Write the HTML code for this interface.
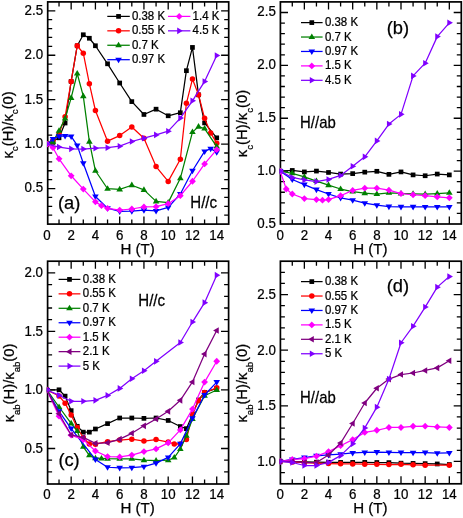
<!DOCTYPE html>
<html lang="en">
<head>
<meta charset="utf-8">
<title>Field dependence of thermal conductivity</title>
<style>
html,body{margin:0;padding:0;background:#fff;}
body{width:463px;height:518px;overflow:hidden;font-family:"Liberation Sans", sans-serif;}
svg{display:block;will-change:transform;font-family:"Liberation Sans", sans-serif;fill:#000;}
svg text{stroke:#000;stroke-width:0.25px;}
</style>
</head>
<body>
<svg width="463" height="518" viewBox="0 0 463 518">
<rect width="463" height="518" fill="#fff"/>
<path d="M59.03 224.1v-4.5M59.03 1.9v4.5M71.16 224.1v-7.6M71.16 1.9v7.6M83.29 224.1v-4.5M83.29 1.9v4.5M95.42 224.1v-7.6M95.42 1.9v7.6M107.55 224.1v-4.5M107.55 1.9v4.5M119.68 224.1v-7.6M119.68 1.9v7.6M131.81 224.1v-4.5M131.81 1.9v4.5M143.94 224.1v-7.6M143.94 1.9v7.6M156.07 224.1v-4.5M156.07 1.9v4.5M168.2 224.1v-7.6M168.2 1.9v7.6M180.33 224.1v-4.5M180.33 1.9v4.5M192.46 224.1v-7.6M192.46 1.9v7.6M204.59 224.1v-4.5M204.59 1.9v4.5M216.72 224.1v-7.6M216.72 1.9v7.6M47.7 215.21h4.5M228.7 215.21h-4.5M47.7 206.32h4.5M228.7 206.32h-4.5M47.7 197.44h4.5M228.7 197.44h-4.5M47.7 188.55h7.6M228.7 188.55h-7.6M47.7 179.66h4.5M228.7 179.66h-4.5M47.7 170.77h4.5M228.7 170.77h-4.5M47.7 161.88h4.5M228.7 161.88h-4.5M47.7 153h4.5M228.7 153h-4.5M47.7 144.11h7.6M228.7 144.11h-7.6M47.7 135.22h4.5M228.7 135.22h-4.5M47.7 126.33h4.5M228.7 126.33h-4.5M47.7 117.44h4.5M228.7 117.44h-4.5M47.7 108.56h4.5M228.7 108.56h-4.5M47.7 99.67h7.6M228.7 99.67h-7.6M47.7 90.78h4.5M228.7 90.78h-4.5M47.7 81.89h4.5M228.7 81.89h-4.5M47.7 73h4.5M228.7 73h-4.5M47.7 64.12h4.5M228.7 64.12h-4.5M47.7 55.23h7.6M228.7 55.23h-7.6M47.7 46.34h4.5M228.7 46.34h-4.5M47.7 37.45h4.5M228.7 37.45h-4.5M47.7 28.56h4.5M228.7 28.56h-4.5M47.7 19.68h4.5M228.7 19.68h-4.5M47.7 10.79h7.6M228.7 10.79h-7.6" stroke="#000" stroke-width="1.3" fill="none"/>
<rect x="47.7" y="1.9" width="181" height="222.2" fill="none" stroke="#000" stroke-width="1.7"/>
<clipPath id="clipa"><rect x="47" y="1.2" width="182.4" height="223.6"/></clipPath>
<g clip-path="url(#clipa)">
<polyline points="46.9,144.11 52.96,141.33 59.03,137.82 65.09,123.02 71.16,81.43 77.22,45.75 83.29,34.74 89.36,38.26 95.42,45.75 107.55,63.81 119.68,83.01 131.81,101.61 143.94,114.47 156.07,109.18 168.2,115.79 180.33,112.71 186.4,70.68 192.46,47.42 198.53,94.82 204.59,122.93 216.72,137.82" fill="none" stroke="#000000" stroke-width="1.25" stroke-linejoin="round"/>
<rect x="44.55" y="141.76" width="4.7" height="4.7" fill="#000000"/>
<rect x="50.61" y="138.98" width="4.7" height="4.7" fill="#000000"/>
<rect x="56.68" y="135.47" width="4.7" height="4.7" fill="#000000"/>
<rect x="62.74" y="120.67" width="4.7" height="4.7" fill="#000000"/>
<rect x="68.81" y="79.08" width="4.7" height="4.7" fill="#000000"/>
<rect x="74.88" y="43.4" width="4.7" height="4.7" fill="#000000"/>
<rect x="80.94" y="32.39" width="4.7" height="4.7" fill="#000000"/>
<rect x="87.01" y="35.91" width="4.7" height="4.7" fill="#000000"/>
<rect x="93.07" y="43.4" width="4.7" height="4.7" fill="#000000"/>
<rect x="105.2" y="61.46" width="4.7" height="4.7" fill="#000000"/>
<rect x="117.33" y="80.66" width="4.7" height="4.7" fill="#000000"/>
<rect x="129.46" y="99.26" width="4.7" height="4.7" fill="#000000"/>
<rect x="141.59" y="112.12" width="4.7" height="4.7" fill="#000000"/>
<rect x="153.72" y="106.83" width="4.7" height="4.7" fill="#000000"/>
<rect x="165.85" y="113.44" width="4.7" height="4.7" fill="#000000"/>
<rect x="177.98" y="110.36" width="4.7" height="4.7" fill="#000000"/>
<rect x="184.05" y="68.33" width="4.7" height="4.7" fill="#000000"/>
<rect x="190.11" y="45.07" width="4.7" height="4.7" fill="#000000"/>
<rect x="196.18" y="92.47" width="4.7" height="4.7" fill="#000000"/>
<rect x="202.24" y="120.58" width="4.7" height="4.7" fill="#000000"/>
<rect x="214.37" y="135.47" width="4.7" height="4.7" fill="#000000"/>
<polyline points="46.9,144.11 52.96,140.46 59.03,133.85 65.09,116.85 71.16,81.43 77.22,45.75 83.29,53.24 89.36,83.63 95.42,110.5 107.55,141.17 119.68,135.61 131.81,126.98 143.94,138.17 156.07,166.62 168.2,181.42 180.33,159.31 186.4,103.28 192.46,79.05 198.53,94.65 204.59,118.34 210.66,132.88 216.72,143.19" fill="none" stroke="#ff0000" stroke-width="1.25" stroke-linejoin="round"/>
<circle cx="46.9" cy="144.11" r="2.75" fill="#ff0000"/>
<circle cx="52.96" cy="140.46" r="2.75" fill="#ff0000"/>
<circle cx="59.03" cy="133.85" r="2.75" fill="#ff0000"/>
<circle cx="65.09" cy="116.85" r="2.75" fill="#ff0000"/>
<circle cx="71.16" cy="81.43" r="2.75" fill="#ff0000"/>
<circle cx="77.22" cy="45.75" r="2.75" fill="#ff0000"/>
<circle cx="83.29" cy="53.24" r="2.75" fill="#ff0000"/>
<circle cx="89.36" cy="83.63" r="2.75" fill="#ff0000"/>
<circle cx="95.42" cy="110.5" r="2.75" fill="#ff0000"/>
<circle cx="107.55" cy="141.17" r="2.75" fill="#ff0000"/>
<circle cx="119.68" cy="135.61" r="2.75" fill="#ff0000"/>
<circle cx="131.81" cy="126.98" r="2.75" fill="#ff0000"/>
<circle cx="143.94" cy="138.17" r="2.75" fill="#ff0000"/>
<circle cx="156.07" cy="166.62" r="2.75" fill="#ff0000"/>
<circle cx="168.2" cy="181.42" r="2.75" fill="#ff0000"/>
<circle cx="180.33" cy="159.31" r="2.75" fill="#ff0000"/>
<circle cx="186.4" cy="103.28" r="2.75" fill="#ff0000"/>
<circle cx="192.46" cy="79.05" r="2.75" fill="#ff0000"/>
<circle cx="198.53" cy="94.65" r="2.75" fill="#ff0000"/>
<circle cx="204.59" cy="118.34" r="2.75" fill="#ff0000"/>
<circle cx="210.66" cy="132.88" r="2.75" fill="#ff0000"/>
<circle cx="216.72" cy="143.19" r="2.75" fill="#ff0000"/>
<polyline points="46.9,144.11 52.96,141.78 59.03,130.77 65.09,118.61 71.16,97.91 77.22,73.5 83.29,96.14 89.36,141.69 95.42,170.76 107.55,188.73 119.68,189.44 131.81,185.22 143.94,189.88 156.07,201.42 168.2,202.65 180.33,178.34 192.46,132.09 198.53,126.63 204.59,128.56 216.72,146.53" fill="none" stroke="#008000" stroke-width="1.25" stroke-linejoin="round"/>
<polygon points="46.9,140.51 43.6,146.11 50.2,146.11" fill="#008000"/>
<polygon points="52.96,138.18 49.66,143.78 56.26,143.78" fill="#008000"/>
<polygon points="59.03,127.17 55.73,132.77 62.33,132.77" fill="#008000"/>
<polygon points="65.09,115.01 61.8,120.61 68.39,120.61" fill="#008000"/>
<polygon points="71.16,94.31 67.86,99.91 74.46,99.91" fill="#008000"/>
<polygon points="77.22,69.9 73.92,75.5 80.52,75.5" fill="#008000"/>
<polygon points="83.29,92.54 79.99,98.14 86.59,98.14" fill="#008000"/>
<polygon points="89.36,138.09 86.06,143.69 92.66,143.69" fill="#008000"/>
<polygon points="95.42,167.16 92.12,172.76 98.72,172.76" fill="#008000"/>
<polygon points="107.55,185.13 104.25,190.73 110.85,190.73" fill="#008000"/>
<polygon points="119.68,185.84 116.38,191.44 122.98,191.44" fill="#008000"/>
<polygon points="131.81,181.62 128.51,187.22 135.11,187.22" fill="#008000"/>
<polygon points="143.94,186.28 140.64,191.88 147.24,191.88" fill="#008000"/>
<polygon points="156.07,197.82 152.77,203.42 159.37,203.42" fill="#008000"/>
<polygon points="168.2,199.05 164.9,204.65 171.5,204.65" fill="#008000"/>
<polygon points="180.33,174.74 177.03,180.34 183.63,180.34" fill="#008000"/>
<polygon points="192.46,128.49 189.16,134.09 195.76,134.09" fill="#008000"/>
<polygon points="198.53,123.03 195.22,128.63 201.83,128.63" fill="#008000"/>
<polygon points="204.59,124.96 201.29,130.56 207.89,130.56" fill="#008000"/>
<polygon points="216.72,142.93 213.42,148.53 220.02,148.53" fill="#008000"/>
<polyline points="46.9,144.11 52.96,138.96 59.03,136.22 65.09,135.88 71.16,136.4 77.22,145.39 83.29,163.27 95.42,196.48 107.55,208.21 119.68,211.46 131.81,211.2 143.94,210.23 156.07,210.94 168.2,207.42 180.33,194.02 192.46,170.76 204.59,151.38 210.66,148.65 216.72,152.18" fill="none" stroke="#0000ff" stroke-width="1.25" stroke-linejoin="round"/>
<polygon points="46.9,147.71 43.6,142.11 50.2,142.11" fill="#0000ff"/>
<polygon points="52.96,142.56 49.66,136.96 56.26,136.96" fill="#0000ff"/>
<polygon points="59.03,139.82 55.73,134.22 62.33,134.22" fill="#0000ff"/>
<polygon points="65.09,139.48 61.8,133.88 68.39,133.88" fill="#0000ff"/>
<polygon points="71.16,140 67.86,134.4 74.46,134.4" fill="#0000ff"/>
<polygon points="77.22,148.99 73.92,143.39 80.52,143.39" fill="#0000ff"/>
<polygon points="83.29,166.87 79.99,161.27 86.59,161.27" fill="#0000ff"/>
<polygon points="95.42,200.08 92.12,194.48 98.72,194.48" fill="#0000ff"/>
<polygon points="107.55,211.81 104.25,206.21 110.85,206.21" fill="#0000ff"/>
<polygon points="119.68,215.06 116.38,209.46 122.98,209.46" fill="#0000ff"/>
<polygon points="131.81,214.8 128.51,209.2 135.11,209.2" fill="#0000ff"/>
<polygon points="143.94,213.83 140.64,208.23 147.24,208.23" fill="#0000ff"/>
<polygon points="156.07,214.54 152.77,208.94 159.37,208.94" fill="#0000ff"/>
<polygon points="168.2,211.02 164.9,205.42 171.5,205.42" fill="#0000ff"/>
<polygon points="180.33,197.62 177.03,192.02 183.63,192.02" fill="#0000ff"/>
<polygon points="192.46,174.36 189.16,168.76 195.76,168.76" fill="#0000ff"/>
<polygon points="204.59,154.98 201.29,149.38 207.89,149.38" fill="#0000ff"/>
<polygon points="210.66,152.25 207.36,146.65 213.96,146.65" fill="#0000ff"/>
<polygon points="216.72,155.78 213.42,150.18 220.02,150.18" fill="#0000ff"/>
<polyline points="46.9,144.11 52.96,147.68 59.03,158.78 71.16,175.78 83.29,189.09 95.42,201.86 101.48,205.65 107.55,208.3 119.68,210.06 131.81,209 143.94,206.97 156.07,206.71 168.2,203.71 180.33,195.69 192.46,181.25 204.59,163.89 216.72,149.71" fill="none" stroke="#ff00ff" stroke-width="1.25" stroke-linejoin="round"/>
<polygon points="46.9,140.71 50.3,144.11 46.9,147.51 43.5,144.11" fill="#ff00ff"/>
<polygon points="52.96,144.28 56.36,147.68 52.96,151.08 49.56,147.68" fill="#ff00ff"/>
<polygon points="59.03,155.38 62.43,158.78 59.03,162.18 55.63,158.78" fill="#ff00ff"/>
<polygon points="71.16,172.38 74.56,175.78 71.16,179.18 67.76,175.78" fill="#ff00ff"/>
<polygon points="83.29,185.69 86.69,189.09 83.29,192.49 79.89,189.09" fill="#ff00ff"/>
<polygon points="95.42,198.46 98.82,201.86 95.42,205.26 92.02,201.86" fill="#ff00ff"/>
<polygon points="101.48,202.25 104.89,205.65 101.48,209.05 98.08,205.65" fill="#ff00ff"/>
<polygon points="107.55,204.9 110.95,208.3 107.55,211.7 104.15,208.3" fill="#ff00ff"/>
<polygon points="119.68,206.66 123.08,210.06 119.68,213.46 116.28,210.06" fill="#ff00ff"/>
<polygon points="131.81,205.6 135.21,209 131.81,212.4 128.41,209" fill="#ff00ff"/>
<polygon points="143.94,203.57 147.34,206.97 143.94,210.37 140.54,206.97" fill="#ff00ff"/>
<polygon points="156.07,203.31 159.47,206.71 156.07,210.11 152.67,206.71" fill="#ff00ff"/>
<polygon points="168.2,200.31 171.6,203.71 168.2,207.11 164.8,203.71" fill="#ff00ff"/>
<polygon points="180.33,192.29 183.73,195.69 180.33,199.09 176.93,195.69" fill="#ff00ff"/>
<polygon points="192.46,177.85 195.86,181.25 192.46,184.65 189.06,181.25" fill="#ff00ff"/>
<polygon points="204.59,160.49 207.99,163.89 204.59,167.29 201.19,163.89" fill="#ff00ff"/>
<polygon points="216.72,146.31 220.12,149.71 216.72,153.11 213.32,149.71" fill="#ff00ff"/>
<polyline points="46.9,144.11 59.03,147.07 71.16,148.83 83.29,149.01 95.42,148.21 107.55,147.68 119.68,146.19 131.81,141.51 143.94,138.17 156.07,134.91 168.2,131.2 180.33,118.08 192.46,100.81 204.59,81.43 216.72,55.44" fill="none" stroke="#8000ff" stroke-width="1.25" stroke-linejoin="round"/>
<polygon points="50.5,144.11 44.9,140.81 44.9,147.41" fill="#8000ff"/>
<polygon points="62.63,147.07 57.03,143.77 57.03,150.37" fill="#8000ff"/>
<polygon points="74.76,148.83 69.16,145.53 69.16,152.13" fill="#8000ff"/>
<polygon points="86.89,149.01 81.29,145.71 81.29,152.31" fill="#8000ff"/>
<polygon points="99.02,148.21 93.42,144.91 93.42,151.51" fill="#8000ff"/>
<polygon points="111.15,147.68 105.55,144.38 105.55,150.98" fill="#8000ff"/>
<polygon points="123.28,146.19 117.68,142.89 117.68,149.49" fill="#8000ff"/>
<polygon points="135.41,141.51 129.81,138.21 129.81,144.81" fill="#8000ff"/>
<polygon points="147.54,138.17 141.94,134.87 141.94,141.47" fill="#8000ff"/>
<polygon points="159.67,134.91 154.07,131.61 154.07,138.21" fill="#8000ff"/>
<polygon points="171.8,131.2 166.2,127.9 166.2,134.5" fill="#8000ff"/>
<polygon points="183.93,118.08 178.33,114.78 178.33,121.38" fill="#8000ff"/>
<polygon points="196.06,100.81 190.46,97.51 190.46,104.11" fill="#8000ff"/>
<polygon points="208.19,81.43 202.59,78.13 202.59,84.73" fill="#8000ff"/>
<polygon points="220.32,55.44 214.72,52.14 214.72,58.74" fill="#8000ff"/>
</g>
<text transform="translate(46.9 240) scale(0.925 1)" font-size="14.4" text-anchor="middle">0</text>
<text transform="translate(71.16 240) scale(0.925 1)" font-size="14.4" text-anchor="middle">2</text>
<text transform="translate(95.42 240) scale(0.925 1)" font-size="14.4" text-anchor="middle">4</text>
<text transform="translate(119.68 240) scale(0.925 1)" font-size="14.4" text-anchor="middle">6</text>
<text transform="translate(143.94 240) scale(0.925 1)" font-size="14.4" text-anchor="middle">8</text>
<text transform="translate(168.2 240) scale(0.925 1)" font-size="14.4" text-anchor="middle">10</text>
<text transform="translate(192.46 240) scale(0.925 1)" font-size="14.4" text-anchor="middle">12</text>
<text transform="translate(216.72 240) scale(0.925 1)" font-size="14.4" text-anchor="middle">14</text>
<text transform="translate(43.1 192.45) scale(0.925 1)" font-size="14.4" text-anchor="end">0.5</text>
<text transform="translate(43.1 148.01) scale(0.925 1)" font-size="14.4" text-anchor="end">1.0</text>
<text transform="translate(43.1 103.57) scale(0.925 1)" font-size="14.4" text-anchor="end">1.5</text>
<text transform="translate(43.1 59.13) scale(0.925 1)" font-size="14.4" text-anchor="end">2.0</text>
<text transform="translate(43.1 14.69) scale(0.925 1)" font-size="14.4" text-anchor="end">2.5</text>
<text x="137.7" y="253.6" font-size="15.1" text-anchor="middle">H (T)</text>
<text transform="translate(12.8 124.9) rotate(-90)" font-size="14.8" text-anchor="middle">κ<tspan font-size="9.8" dy="5.0">c</tspan><tspan dy="-5.0">(H)/κ</tspan><tspan font-size="9.8" dy="5.0">c</tspan><tspan dy="-5.0">(0)</tspan></text>
<text x="58" y="208.8" font-size="18.3">(a)</text>
<text transform="translate(190.3 207.8) scale(0.96 1)" font-size="15.7">H//c</text>
<path d="M107.3 16.4H129.8" stroke="#000000" stroke-width="1.25"/>
<rect x="116.2" y="14.05" width="4.7" height="4.7" fill="#000000"/>
<text transform="translate(131.9 20) scale(0.94 1)" font-size="12.2">0.38 K</text>
<path d="M107.3 30.83H129.8" stroke="#ff0000" stroke-width="1.25"/>
<circle cx="118.55" cy="30.83" r="2.75" fill="#ff0000"/>
<text transform="translate(131.9 34.43) scale(0.94 1)" font-size="12.2">0.55 K</text>
<path d="M107.3 45.26H129.8" stroke="#008000" stroke-width="1.25"/>
<polygon points="118.55,41.66 115.25,47.26 121.85,47.26" fill="#008000"/>
<text transform="translate(131.9 48.86) scale(0.94 1)" font-size="12.2">0.7 K</text>
<path d="M107.3 59.69H129.8" stroke="#0000ff" stroke-width="1.25"/>
<polygon points="118.55,63.29 115.25,57.69 121.85,57.69" fill="#0000ff"/>
<text transform="translate(131.9 63.29) scale(0.94 1)" font-size="12.2">0.97 K</text>
<path d="M168 16.4H190.4" stroke="#ff00ff" stroke-width="1.25"/>
<polygon points="179.2,13 182.6,16.4 179.2,19.8 175.8,16.4" fill="#ff00ff"/>
<text transform="translate(192.6 20) scale(0.94 1)" font-size="12.2">1.4 K</text>
<path d="M168 30.83H190.4" stroke="#8000ff" stroke-width="1.25"/>
<polygon points="182.8,30.83 177.2,27.53 177.2,34.13" fill="#8000ff"/>
<text transform="translate(192.6 34.43) scale(0.94 1)" font-size="12.2">4.5 K</text>
<path d="M292.28 224v-4.5M292.28 1.9v4.5M304.36 224v-7.6M304.36 1.9v7.6M316.44 224v-4.5M316.44 1.9v4.5M328.52 224v-7.6M328.52 1.9v7.6M340.6 224v-4.5M340.6 1.9v4.5M352.68 224v-7.6M352.68 1.9v7.6M364.76 224v-4.5M364.76 1.9v4.5M376.84 224v-7.6M376.84 1.9v7.6M388.92 224v-4.5M388.92 1.9v4.5M401 224v-7.6M401 1.9v7.6M413.08 224v-4.5M413.08 1.9v4.5M425.16 224v-7.6M425.16 1.9v7.6M437.24 224v-4.5M437.24 1.9v4.5M449.32 224v-7.6M449.32 1.9v7.6M280.4 213.42h4.5M461.3 213.42h-4.5M280.4 202.84h4.5M461.3 202.84h-4.5M280.4 192.27h4.5M461.3 192.27h-4.5M280.4 181.69h4.5M461.3 181.69h-4.5M280.4 171.12h7.6M461.3 171.12h-7.6M280.4 160.54h4.5M461.3 160.54h-4.5M280.4 149.96h4.5M461.3 149.96h-4.5M280.4 139.39h4.5M461.3 139.39h-4.5M280.4 128.81h4.5M461.3 128.81h-4.5M280.4 118.24h7.6M461.3 118.24h-7.6M280.4 107.66h4.5M461.3 107.66h-4.5M280.4 97.08h4.5M461.3 97.08h-4.5M280.4 86.51h4.5M461.3 86.51h-4.5M280.4 75.93h4.5M461.3 75.93h-4.5M280.4 65.36h7.6M461.3 65.36h-7.6M280.4 54.78h4.5M461.3 54.78h-4.5M280.4 44.2h4.5M461.3 44.2h-4.5M280.4 33.63h4.5M461.3 33.63h-4.5M280.4 23.05h4.5M461.3 23.05h-4.5M280.4 12.48h7.6M461.3 12.48h-7.6" stroke="#000" stroke-width="1.3" fill="none"/>
<rect x="280.4" y="1.9" width="180.9" height="222.1" fill="none" stroke="#000" stroke-width="1.7"/>
<clipPath id="clipb"><rect x="279.7" y="1.2" width="182.3" height="223.5"/></clipPath>
<g clip-path="url(#clipb)">
<polyline points="280.2,171.12 292.28,170.44 304.36,171.92 316.44,171.07 328.52,172.46 340.6,174.05 352.68,173.62 364.76,172.14 376.84,171.29 388.92,174.36 401,171.92 413.08,174.9 425.16,175.75 437.24,174.05 449.32,174.9" fill="none" stroke="#000000" stroke-width="1.25" stroke-linejoin="round"/>
<rect x="277.85" y="168.77" width="4.7" height="4.7" fill="#000000"/>
<rect x="289.93" y="168.09" width="4.7" height="4.7" fill="#000000"/>
<rect x="302.01" y="169.57" width="4.7" height="4.7" fill="#000000"/>
<rect x="314.09" y="168.72" width="4.7" height="4.7" fill="#000000"/>
<rect x="326.17" y="170.11" width="4.7" height="4.7" fill="#000000"/>
<rect x="338.25" y="171.7" width="4.7" height="4.7" fill="#000000"/>
<rect x="350.33" y="171.27" width="4.7" height="4.7" fill="#000000"/>
<rect x="362.41" y="169.79" width="4.7" height="4.7" fill="#000000"/>
<rect x="374.49" y="168.94" width="4.7" height="4.7" fill="#000000"/>
<rect x="386.57" y="172.01" width="4.7" height="4.7" fill="#000000"/>
<rect x="398.65" y="169.57" width="4.7" height="4.7" fill="#000000"/>
<rect x="410.73" y="172.55" width="4.7" height="4.7" fill="#000000"/>
<rect x="422.81" y="173.4" width="4.7" height="4.7" fill="#000000"/>
<rect x="434.89" y="171.7" width="4.7" height="4.7" fill="#000000"/>
<rect x="446.97" y="172.55" width="4.7" height="4.7" fill="#000000"/>
<polyline points="280.2,171.12 292.28,173.31 304.36,176.91 316.44,181.06 328.52,185.2 340.6,189.02 352.68,191.57 364.76,193.17 376.84,194.01 388.92,192.85 401,193.48 413.08,193.8 425.16,194.22 437.24,193.59 449.32,192.85" fill="none" stroke="#008000" stroke-width="1.25" stroke-linejoin="round"/>
<polygon points="280.2,167.52 276.9,173.12 283.5,173.12" fill="#008000"/>
<polygon points="292.28,169.71 288.98,175.31 295.58,175.31" fill="#008000"/>
<polygon points="304.36,173.31 301.06,178.91 307.66,178.91" fill="#008000"/>
<polygon points="316.44,177.46 313.14,183.06 319.74,183.06" fill="#008000"/>
<polygon points="328.52,181.6 325.22,187.2 331.82,187.2" fill="#008000"/>
<polygon points="340.6,185.42 337.3,191.02 343.9,191.02" fill="#008000"/>
<polygon points="352.68,187.97 349.38,193.57 355.98,193.57" fill="#008000"/>
<polygon points="364.76,189.57 361.46,195.17 368.06,195.17" fill="#008000"/>
<polygon points="376.84,190.41 373.54,196.01 380.14,196.01" fill="#008000"/>
<polygon points="388.92,189.25 385.62,194.85 392.22,194.85" fill="#008000"/>
<polygon points="401,189.88 397.7,195.48 404.3,195.48" fill="#008000"/>
<polygon points="413.08,190.2 409.78,195.8 416.38,195.8" fill="#008000"/>
<polygon points="425.16,190.62 421.86,196.22 428.46,196.22" fill="#008000"/>
<polygon points="437.24,189.99 433.94,195.59 440.54,195.59" fill="#008000"/>
<polygon points="449.32,189.25 446.02,194.85 452.62,194.85" fill="#008000"/>
<polyline points="280.2,171.12 292.28,179.46 304.36,184.56 316.44,189.55 328.52,194.01 340.6,197.84 352.68,200.18 364.76,203.15 376.84,205.16 388.92,206.55 401,206.86 413.08,206.86 425.16,206.97 437.24,206.97 449.32,206.97" fill="none" stroke="#0000ff" stroke-width="1.25" stroke-linejoin="round"/>
<polygon points="280.2,174.72 276.9,169.12 283.5,169.12" fill="#0000ff"/>
<polygon points="292.28,183.06 288.98,177.46 295.58,177.46" fill="#0000ff"/>
<polygon points="304.36,188.16 301.06,182.56 307.66,182.56" fill="#0000ff"/>
<polygon points="316.44,193.15 313.14,187.55 319.74,187.55" fill="#0000ff"/>
<polygon points="328.52,197.61 325.22,192.01 331.82,192.01" fill="#0000ff"/>
<polygon points="340.6,201.44 337.3,195.84 343.9,195.84" fill="#0000ff"/>
<polygon points="352.68,203.78 349.38,198.18 355.98,198.18" fill="#0000ff"/>
<polygon points="364.76,206.75 361.46,201.15 368.06,201.15" fill="#0000ff"/>
<polygon points="376.84,208.76 373.54,203.16 380.14,203.16" fill="#0000ff"/>
<polygon points="388.92,210.15 385.62,204.55 392.22,204.55" fill="#0000ff"/>
<polygon points="401,210.46 397.7,204.86 404.3,204.86" fill="#0000ff"/>
<polygon points="413.08,210.46 409.78,204.86 416.38,204.86" fill="#0000ff"/>
<polygon points="425.16,210.57 421.86,204.97 428.46,204.97" fill="#0000ff"/>
<polygon points="437.24,210.57 433.94,204.97 440.54,204.97" fill="#0000ff"/>
<polygon points="449.32,210.57 446.02,204.97 452.62,204.97" fill="#0000ff"/>
<polyline points="280.2,171.12 286.24,189.02 292.28,194.01 304.36,198.58 316.44,199.53 322.48,200.18 328.52,199.53 340.6,195.72 352.68,190.41 364.76,188.18 376.84,188.18 388.92,190.2 401,193.59 413.08,194.75 425.16,195.72 437.24,196.88 449.32,197.84" fill="none" stroke="#ff00ff" stroke-width="1.25" stroke-linejoin="round"/>
<polygon points="280.2,167.72 283.6,171.12 280.2,174.52 276.8,171.12" fill="#ff00ff"/>
<polygon points="286.24,185.62 289.64,189.02 286.24,192.42 282.84,189.02" fill="#ff00ff"/>
<polygon points="292.28,190.61 295.68,194.01 292.28,197.41 288.88,194.01" fill="#ff00ff"/>
<polygon points="304.36,195.18 307.76,198.58 304.36,201.98 300.96,198.58" fill="#ff00ff"/>
<polygon points="316.44,196.13 319.84,199.53 316.44,202.93 313.04,199.53" fill="#ff00ff"/>
<polygon points="322.48,196.78 325.88,200.18 322.48,203.58 319.08,200.18" fill="#ff00ff"/>
<polygon points="328.52,196.13 331.92,199.53 328.52,202.93 325.12,199.53" fill="#ff00ff"/>
<polygon points="340.6,192.32 344,195.72 340.6,199.12 337.2,195.72" fill="#ff00ff"/>
<polygon points="352.68,187.01 356.08,190.41 352.68,193.81 349.28,190.41" fill="#ff00ff"/>
<polygon points="364.76,184.78 368.16,188.18 364.76,191.58 361.36,188.18" fill="#ff00ff"/>
<polygon points="376.84,184.78 380.24,188.18 376.84,191.58 373.44,188.18" fill="#ff00ff"/>
<polygon points="388.92,186.8 392.32,190.2 388.92,193.6 385.52,190.2" fill="#ff00ff"/>
<polygon points="401,190.19 404.4,193.59 401,196.99 397.6,193.59" fill="#ff00ff"/>
<polygon points="413.08,191.35 416.48,194.75 413.08,198.15 409.68,194.75" fill="#ff00ff"/>
<polygon points="425.16,192.32 428.56,195.72 425.16,199.12 421.76,195.72" fill="#ff00ff"/>
<polygon points="437.24,193.48 440.64,196.88 437.24,200.28 433.84,196.88" fill="#ff00ff"/>
<polygon points="449.32,194.44 452.72,197.84 449.32,201.24 445.92,197.84" fill="#ff00ff"/>
<polyline points="280.2,171.12 292.28,177.45 304.36,179.89 316.44,181.59 328.52,179.46 340.6,175.43 352.68,166.29 364.76,156.85 376.84,140.91 388.92,124.03 401,114.37 413.08,75.92 425.16,63.18 437.24,36.62 449.32,22.82" fill="none" stroke="#8000ff" stroke-width="1.25" stroke-linejoin="round"/>
<polygon points="283.8,171.12 278.2,167.82 278.2,174.42" fill="#8000ff"/>
<polygon points="295.88,177.45 290.28,174.15 290.28,180.75" fill="#8000ff"/>
<polygon points="307.96,179.89 302.36,176.59 302.36,183.19" fill="#8000ff"/>
<polygon points="320.04,181.59 314.44,178.29 314.44,184.89" fill="#8000ff"/>
<polygon points="332.12,179.46 326.52,176.16 326.52,182.76" fill="#8000ff"/>
<polygon points="344.2,175.43 338.6,172.13 338.6,178.73" fill="#8000ff"/>
<polygon points="356.28,166.29 350.68,162.99 350.68,169.59" fill="#8000ff"/>
<polygon points="368.36,156.85 362.76,153.55 362.76,160.15" fill="#8000ff"/>
<polygon points="380.44,140.91 374.84,137.61 374.84,144.21" fill="#8000ff"/>
<polygon points="392.52,124.03 386.92,120.73 386.92,127.33" fill="#8000ff"/>
<polygon points="404.6,114.37 399,111.07 399,117.67" fill="#8000ff"/>
<polygon points="416.68,75.92 411.08,72.62 411.08,79.22" fill="#8000ff"/>
<polygon points="428.76,63.18 423.16,59.88 423.16,66.48" fill="#8000ff"/>
<polygon points="440.84,36.62 435.24,33.32 435.24,39.92" fill="#8000ff"/>
<polygon points="452.92,22.82 447.32,19.52 447.32,26.12" fill="#8000ff"/>
</g>
<text transform="translate(280.2 239.9) scale(0.925 1)" font-size="14.4" text-anchor="middle">0</text>
<text transform="translate(304.36 239.9) scale(0.925 1)" font-size="14.4" text-anchor="middle">2</text>
<text transform="translate(328.52 239.9) scale(0.925 1)" font-size="14.4" text-anchor="middle">4</text>
<text transform="translate(352.68 239.9) scale(0.925 1)" font-size="14.4" text-anchor="middle">6</text>
<text transform="translate(376.84 239.9) scale(0.925 1)" font-size="14.4" text-anchor="middle">8</text>
<text transform="translate(401 239.9) scale(0.925 1)" font-size="14.4" text-anchor="middle">10</text>
<text transform="translate(425.16 239.9) scale(0.925 1)" font-size="14.4" text-anchor="middle">12</text>
<text transform="translate(449.32 239.9) scale(0.925 1)" font-size="14.4" text-anchor="middle">14</text>
<text transform="translate(275.8 227.9) scale(0.925 1)" font-size="14.4" text-anchor="end">0.5</text>
<text transform="translate(275.8 175.02) scale(0.925 1)" font-size="14.4" text-anchor="end">1.0</text>
<text transform="translate(275.8 122.14) scale(0.925 1)" font-size="14.4" text-anchor="end">1.5</text>
<text transform="translate(275.8 69.26) scale(0.925 1)" font-size="14.4" text-anchor="end">2.0</text>
<text transform="translate(275.8 16.38) scale(0.925 1)" font-size="14.4" text-anchor="end">2.5</text>
<text x="370.35" y="253.5" font-size="15.1" text-anchor="middle">H (T)</text>
<text transform="translate(246.9 123.5) rotate(-90)" font-size="14.8" text-anchor="middle">κ<tspan font-size="9.8" dy="6.3">c</tspan><tspan dy="-6.3">(H)/κ</tspan><tspan font-size="9.8" dy="6.3">c</tspan><tspan dy="-6.3">(0)</tspan></text>
<text x="386.7" y="34.4" font-size="18.3">(b)</text>
<text transform="translate(300.1 127.9) scale(0.95 1)" font-size="15.7">H//ab</text>
<path d="M301 22.6H322.6" stroke="#000000" stroke-width="1.25"/>
<rect x="309.45" y="20.25" width="4.7" height="4.7" fill="#000000"/>
<text transform="translate(324.9 26.2) scale(0.94 1)" font-size="12.2">0.38 K</text>
<path d="M301 37.03H322.6" stroke="#008000" stroke-width="1.25"/>
<polygon points="311.8,33.43 308.5,39.03 315.1,39.03" fill="#008000"/>
<text transform="translate(324.9 40.63) scale(0.94 1)" font-size="12.2">0.7 K</text>
<path d="M301 51.46H322.6" stroke="#0000ff" stroke-width="1.25"/>
<polygon points="311.8,55.06 308.5,49.46 315.1,49.46" fill="#0000ff"/>
<text transform="translate(324.9 55.06) scale(0.94 1)" font-size="12.2">0.97 K</text>
<path d="M301 65.89H322.6" stroke="#ff00ff" stroke-width="1.25"/>
<polygon points="311.8,62.49 315.2,65.89 311.8,69.29 308.4,65.89" fill="#ff00ff"/>
<text transform="translate(324.9 69.49) scale(0.94 1)" font-size="12.2">1.5 K</text>
<path d="M301 80.32H322.6" stroke="#8000ff" stroke-width="1.25"/>
<polygon points="315.4,80.32 309.8,77.02 309.8,83.62" fill="#8000ff"/>
<text transform="translate(324.9 83.92) scale(0.94 1)" font-size="12.2">4.5 K</text>
<path d="M59.03 484v-4.5M59.03 261.2v4.5M71.16 484v-7.6M71.16 261.2v7.6M83.29 484v-4.5M83.29 261.2v4.5M95.42 484v-7.6M95.42 261.2v7.6M107.55 484v-4.5M107.55 261.2v4.5M119.68 484v-7.6M119.68 261.2v7.6M131.81 484v-4.5M131.81 261.2v4.5M143.94 484v-7.6M143.94 261.2v7.6M156.07 484v-4.5M156.07 261.2v4.5M168.2 484v-7.6M168.2 261.2v7.6M180.33 484v-4.5M180.33 261.2v4.5M192.46 484v-7.6M192.46 261.2v7.6M204.59 484v-4.5M204.59 261.2v4.5M216.72 484v-7.6M216.72 261.2v7.6M47.6 471.89h4.5M228.6 471.89h-4.5M47.6 460.19h4.5M228.6 460.19h-4.5M47.6 448.48h7.6M228.6 448.48h-7.6M47.6 436.77h4.5M228.6 436.77h-4.5M47.6 425.07h4.5M228.6 425.07h-4.5M47.6 413.37h4.5M228.6 413.37h-4.5M47.6 401.66h4.5M228.6 401.66h-4.5M47.6 389.95h7.6M228.6 389.95h-7.6M47.6 378.25h4.5M228.6 378.25h-4.5M47.6 366.55h4.5M228.6 366.55h-4.5M47.6 354.84h4.5M228.6 354.84h-4.5M47.6 343.13h4.5M228.6 343.13h-4.5M47.6 331.43h7.6M228.6 331.43h-7.6M47.6 319.72h4.5M228.6 319.72h-4.5M47.6 308.02h4.5M228.6 308.02h-4.5M47.6 296.31h4.5M228.6 296.31h-4.5M47.6 284.61h4.5M228.6 284.61h-4.5M47.6 272.9h7.6M228.6 272.9h-7.6" stroke="#000" stroke-width="1.3" fill="none"/>
<rect x="47.6" y="261.2" width="181" height="222.8" fill="none" stroke="#000" stroke-width="1.7"/>
<clipPath id="clipc"><rect x="46.9" y="260.5" width="182.4" height="224.2"/></clipPath>
<g clip-path="url(#clipc)">
<polyline points="46.9,389.95 59.03,389.8 65.09,396.12 71.16,410.63 77.22,426.3 83.29,432.15 89.36,432.15 95.42,428.99 107.55,423.62 119.68,418 131.81,418 143.94,418.35 156.07,418 168.2,420.46 180.33,426.53 186.4,428.64 192.46,414.37 198.53,399.97 204.59,392.49 216.72,388.4" fill="none" stroke="#000000" stroke-width="1.25" stroke-linejoin="round"/>
<rect x="44.55" y="387.6" width="4.7" height="4.7" fill="#000000"/>
<rect x="56.68" y="387.45" width="4.7" height="4.7" fill="#000000"/>
<rect x="62.74" y="393.77" width="4.7" height="4.7" fill="#000000"/>
<rect x="68.81" y="408.28" width="4.7" height="4.7" fill="#000000"/>
<rect x="74.88" y="423.95" width="4.7" height="4.7" fill="#000000"/>
<rect x="80.94" y="429.8" width="4.7" height="4.7" fill="#000000"/>
<rect x="87.01" y="429.8" width="4.7" height="4.7" fill="#000000"/>
<rect x="93.07" y="426.64" width="4.7" height="4.7" fill="#000000"/>
<rect x="105.2" y="421.27" width="4.7" height="4.7" fill="#000000"/>
<rect x="117.33" y="415.65" width="4.7" height="4.7" fill="#000000"/>
<rect x="129.46" y="415.65" width="4.7" height="4.7" fill="#000000"/>
<rect x="141.59" y="416" width="4.7" height="4.7" fill="#000000"/>
<rect x="153.72" y="415.65" width="4.7" height="4.7" fill="#000000"/>
<rect x="165.85" y="418.11" width="4.7" height="4.7" fill="#000000"/>
<rect x="177.98" y="424.18" width="4.7" height="4.7" fill="#000000"/>
<rect x="184.05" y="426.29" width="4.7" height="4.7" fill="#000000"/>
<rect x="190.11" y="412.02" width="4.7" height="4.7" fill="#000000"/>
<rect x="196.18" y="397.62" width="4.7" height="4.7" fill="#000000"/>
<rect x="202.24" y="390.14" width="4.7" height="4.7" fill="#000000"/>
<rect x="214.37" y="386.05" width="4.7" height="4.7" fill="#000000"/>
<polyline points="46.9,389.95 59.03,396.01 65.09,403.13 71.16,415.07 77.22,427.59 83.29,437.77 89.36,443.97 95.42,444.21 107.55,441.63 119.68,440.11 131.81,439.17 143.94,441.05 156.07,439.53 168.2,442.1 174.27,443.97 180.33,443.97 186.4,439.41 192.46,414.14 198.53,400.79 204.59,392.49 216.72,387.81" fill="none" stroke="#ff0000" stroke-width="1.25" stroke-linejoin="round"/>
<circle cx="46.9" cy="389.95" r="2.75" fill="#ff0000"/>
<circle cx="59.03" cy="396.01" r="2.75" fill="#ff0000"/>
<circle cx="65.09" cy="403.13" r="2.75" fill="#ff0000"/>
<circle cx="71.16" cy="415.07" r="2.75" fill="#ff0000"/>
<circle cx="77.22" cy="427.59" r="2.75" fill="#ff0000"/>
<circle cx="83.29" cy="437.77" r="2.75" fill="#ff0000"/>
<circle cx="89.36" cy="443.97" r="2.75" fill="#ff0000"/>
<circle cx="95.42" cy="444.21" r="2.75" fill="#ff0000"/>
<circle cx="107.55" cy="441.63" r="2.75" fill="#ff0000"/>
<circle cx="119.68" cy="440.11" r="2.75" fill="#ff0000"/>
<circle cx="131.81" cy="439.17" r="2.75" fill="#ff0000"/>
<circle cx="143.94" cy="441.05" r="2.75" fill="#ff0000"/>
<circle cx="156.07" cy="439.53" r="2.75" fill="#ff0000"/>
<circle cx="168.2" cy="442.1" r="2.75" fill="#ff0000"/>
<circle cx="174.27" cy="443.97" r="2.75" fill="#ff0000"/>
<circle cx="180.33" cy="443.97" r="2.75" fill="#ff0000"/>
<circle cx="186.4" cy="439.41" r="2.75" fill="#ff0000"/>
<circle cx="192.46" cy="414.14" r="2.75" fill="#ff0000"/>
<circle cx="198.53" cy="400.79" r="2.75" fill="#ff0000"/>
<circle cx="204.59" cy="392.49" r="2.75" fill="#ff0000"/>
<circle cx="216.72" cy="387.81" r="2.75" fill="#ff0000"/>
<polyline points="46.9,389.95 59.03,407 71.16,423.38 77.22,430.98 83.29,446.78 89.36,455.32 95.42,458.24 101.48,458.48 107.55,458.71 119.68,458.83 131.81,458.83 143.94,460.23 156.07,460.7 168.2,460.23 174.27,457.54 180.33,449.01 186.4,435.66 192.46,419.05 204.59,395.77 216.72,390.04" fill="none" stroke="#008000" stroke-width="1.25" stroke-linejoin="round"/>
<polygon points="46.9,386.35 43.6,391.95 50.2,391.95" fill="#008000"/>
<polygon points="59.03,403.4 55.73,409 62.33,409" fill="#008000"/>
<polygon points="71.16,419.78 67.86,425.38 74.46,425.38" fill="#008000"/>
<polygon points="77.22,427.38 73.92,432.98 80.52,432.98" fill="#008000"/>
<polygon points="83.29,443.18 79.99,448.78 86.59,448.78" fill="#008000"/>
<polygon points="89.36,451.72 86.06,457.32 92.66,457.32" fill="#008000"/>
<polygon points="95.42,454.64 92.12,460.24 98.72,460.24" fill="#008000"/>
<polygon points="101.48,454.88 98.19,460.48 104.78,460.48" fill="#008000"/>
<polygon points="107.55,455.11 104.25,460.71 110.85,460.71" fill="#008000"/>
<polygon points="119.68,455.23 116.38,460.83 122.98,460.83" fill="#008000"/>
<polygon points="131.81,455.23 128.51,460.83 135.11,460.83" fill="#008000"/>
<polygon points="143.94,456.63 140.64,462.23 147.24,462.23" fill="#008000"/>
<polygon points="156.07,457.1 152.77,462.7 159.37,462.7" fill="#008000"/>
<polygon points="168.2,456.63 164.9,462.23 171.5,462.23" fill="#008000"/>
<polygon points="174.27,453.94 170.97,459.54 177.57,459.54" fill="#008000"/>
<polygon points="180.33,445.41 177.03,451.01 183.63,451.01" fill="#008000"/>
<polygon points="186.4,432.06 183.09,437.66 189.7,437.66" fill="#008000"/>
<polygon points="192.46,415.45 189.16,421.05 195.76,421.05" fill="#008000"/>
<polygon points="204.59,392.17 201.29,397.77 207.89,397.77" fill="#008000"/>
<polygon points="216.72,386.44 213.42,392.04 220.02,392.04" fill="#008000"/>
<polyline points="46.9,389.95 59.03,411.33 71.16,428.52 95.42,459.41 107.55,467.25 119.68,467.84 131.81,467.72 143.94,466.67 156.07,463.16 168.2,457.42 180.33,443.86 192.46,418.23 204.59,394.95 216.72,382.08" fill="none" stroke="#0000ff" stroke-width="1.25" stroke-linejoin="round"/>
<polygon points="46.9,393.56 43.6,387.95 50.2,387.95" fill="#0000ff"/>
<polygon points="59.03,414.93 55.73,409.33 62.33,409.33" fill="#0000ff"/>
<polygon points="71.16,432.12 67.86,426.52 74.46,426.52" fill="#0000ff"/>
<polygon points="95.42,463.01 92.12,457.41 98.72,457.41" fill="#0000ff"/>
<polygon points="107.55,470.85 104.25,465.25 110.85,465.25" fill="#0000ff"/>
<polygon points="119.68,471.44 116.38,465.84 122.98,465.84" fill="#0000ff"/>
<polygon points="131.81,471.32 128.51,465.72 135.11,465.72" fill="#0000ff"/>
<polygon points="143.94,470.27 140.64,464.67 147.24,464.67" fill="#0000ff"/>
<polygon points="156.07,466.76 152.77,461.16 159.37,461.16" fill="#0000ff"/>
<polygon points="168.2,461.02 164.9,455.42 171.5,455.42" fill="#0000ff"/>
<polygon points="180.33,447.46 177.03,441.86 183.63,441.86" fill="#0000ff"/>
<polygon points="192.46,421.83 189.16,416.23 195.76,416.23" fill="#0000ff"/>
<polygon points="204.59,398.55 201.29,392.95 207.89,392.95" fill="#0000ff"/>
<polygon points="216.72,385.68 213.42,380.08 220.02,380.08" fill="#0000ff"/>
<polyline points="46.9,389.95 59.03,416.13 71.16,435.19 83.29,439.64 95.42,451 107.55,456.6 119.68,456.95 131.81,455.08 143.94,451.58 156.07,448.89 168.2,442.92 180.33,429.93 192.46,409.1 204.59,382.08 216.72,361.25" fill="none" stroke="#ff00ff" stroke-width="1.25" stroke-linejoin="round"/>
<polygon points="46.9,386.56 50.3,389.95 46.9,393.35 43.5,389.95" fill="#ff00ff"/>
<polygon points="59.03,412.73 62.43,416.13 59.03,419.53 55.63,416.13" fill="#ff00ff"/>
<polygon points="71.16,431.79 74.56,435.19 71.16,438.59 67.76,435.19" fill="#ff00ff"/>
<polygon points="83.29,436.24 86.69,439.64 83.29,443.04 79.89,439.64" fill="#ff00ff"/>
<polygon points="95.42,447.6 98.82,451 95.42,454.4 92.02,451" fill="#ff00ff"/>
<polygon points="107.55,453.2 110.95,456.6 107.55,460 104.15,456.6" fill="#ff00ff"/>
<polygon points="119.68,453.55 123.08,456.95 119.68,460.35 116.28,456.95" fill="#ff00ff"/>
<polygon points="131.81,451.68 135.21,455.08 131.81,458.48 128.41,455.08" fill="#ff00ff"/>
<polygon points="143.94,448.18 147.34,451.58 143.94,454.98 140.54,451.58" fill="#ff00ff"/>
<polygon points="156.07,445.49 159.47,448.89 156.07,452.29 152.67,448.89" fill="#ff00ff"/>
<polygon points="168.2,439.52 171.6,442.92 168.2,446.32 164.8,442.92" fill="#ff00ff"/>
<polygon points="180.33,426.53 183.73,429.93 180.33,433.33 176.93,429.93" fill="#ff00ff"/>
<polygon points="192.46,405.7 195.86,409.1 192.46,412.5 189.06,409.1" fill="#ff00ff"/>
<polygon points="204.59,378.68 207.99,382.08 204.59,385.48 201.19,382.08" fill="#ff00ff"/>
<polygon points="216.72,357.85 220.12,361.25 216.72,364.65 213.32,361.25" fill="#ff00ff"/>
<polyline points="46.9,389.95 59.03,413.79 71.16,434.96 83.29,437.42 95.42,443.39 107.55,442.8 119.68,439.17 131.81,433.32 143.94,425.83 156.07,419.05 168.2,411.33 180.33,400.33 192.46,381.96 204.59,354.11 216.72,330.48" fill="none" stroke="#800080" stroke-width="1.25" stroke-linejoin="round"/>
<polygon points="43.3,389.95 48.9,386.65 48.9,393.25" fill="#800080"/>
<polygon points="55.43,413.79 61.03,410.49 61.03,417.09" fill="#800080"/>
<polygon points="67.56,434.96 73.16,431.66 73.16,438.26" fill="#800080"/>
<polygon points="79.69,437.42 85.29,434.12 85.29,440.72" fill="#800080"/>
<polygon points="91.82,443.39 97.42,440.09 97.42,446.69" fill="#800080"/>
<polygon points="103.95,442.8 109.55,439.5 109.55,446.1" fill="#800080"/>
<polygon points="116.08,439.17 121.68,435.87 121.68,442.47" fill="#800080"/>
<polygon points="128.21,433.32 133.81,430.02 133.81,436.62" fill="#800080"/>
<polygon points="140.34,425.83 145.94,422.53 145.94,429.13" fill="#800080"/>
<polygon points="152.47,419.05 158.07,415.75 158.07,422.35" fill="#800080"/>
<polygon points="164.6,411.33 170.2,408.03 170.2,414.63" fill="#800080"/>
<polygon points="176.73,400.33 182.33,397.03 182.33,403.63" fill="#800080"/>
<polygon points="188.86,381.96 194.46,378.66 194.46,385.26" fill="#800080"/>
<polygon points="200.99,354.11 206.59,350.81 206.59,357.41" fill="#800080"/>
<polygon points="213.12,330.48 218.72,327.18 218.72,333.78" fill="#800080"/>
<polyline points="46.9,389.95 59.03,395.19 71.16,401.26 83.29,401.26 95.42,400.33 107.55,395.42 119.68,388.4 131.81,378.68 143.94,370.72 156.07,361.37 180.33,342.53 192.46,322.05 204.59,302.64 216.72,275.14" fill="none" stroke="#8000ff" stroke-width="1.25" stroke-linejoin="round"/>
<polygon points="50.5,389.95 44.9,386.65 44.9,393.25" fill="#8000ff"/>
<polygon points="62.63,395.19 57.03,391.89 57.03,398.49" fill="#8000ff"/>
<polygon points="74.76,401.26 69.16,397.96 69.16,404.56" fill="#8000ff"/>
<polygon points="86.89,401.26 81.29,397.96 81.29,404.56" fill="#8000ff"/>
<polygon points="99.02,400.33 93.42,397.03 93.42,403.63" fill="#8000ff"/>
<polygon points="111.15,395.42 105.55,392.12 105.55,398.72" fill="#8000ff"/>
<polygon points="123.28,388.4 117.68,385.1 117.68,391.7" fill="#8000ff"/>
<polygon points="135.41,378.68 129.81,375.38 129.81,381.98" fill="#8000ff"/>
<polygon points="147.54,370.72 141.94,367.42 141.94,374.02" fill="#8000ff"/>
<polygon points="159.67,361.37 154.07,358.07 154.07,364.67" fill="#8000ff"/>
<polygon points="183.93,342.53 178.33,339.23 178.33,345.83" fill="#8000ff"/>
<polygon points="196.06,322.05 190.46,318.75 190.46,325.35" fill="#8000ff"/>
<polygon points="208.19,302.64 202.59,299.34 202.59,305.94" fill="#8000ff"/>
<polygon points="220.32,275.14 214.72,271.84 214.72,278.44" fill="#8000ff"/>
</g>
<text transform="translate(46.9 498.5) scale(0.925 1)" font-size="14.4" text-anchor="middle">0</text>
<text transform="translate(71.16 498.5) scale(0.925 1)" font-size="14.4" text-anchor="middle">2</text>
<text transform="translate(95.42 498.5) scale(0.925 1)" font-size="14.4" text-anchor="middle">4</text>
<text transform="translate(119.68 498.5) scale(0.925 1)" font-size="14.4" text-anchor="middle">6</text>
<text transform="translate(143.94 498.5) scale(0.925 1)" font-size="14.4" text-anchor="middle">8</text>
<text transform="translate(168.2 498.5) scale(0.925 1)" font-size="14.4" text-anchor="middle">10</text>
<text transform="translate(192.46 498.5) scale(0.925 1)" font-size="14.4" text-anchor="middle">12</text>
<text transform="translate(216.72 498.5) scale(0.925 1)" font-size="14.4" text-anchor="middle">14</text>
<text transform="translate(43 452.98) scale(0.925 1)" font-size="14.4" text-anchor="end">0.5</text>
<text transform="translate(43 394.45) scale(0.925 1)" font-size="14.4" text-anchor="end">1.0</text>
<text transform="translate(43 335.93) scale(0.925 1)" font-size="14.4" text-anchor="end">1.5</text>
<text transform="translate(43 277.4) scale(0.925 1)" font-size="14.4" text-anchor="end">2.0</text>
<text x="137.6" y="513.1" font-size="15.1" text-anchor="middle">H (T)</text>
<text transform="translate(13.8 383) rotate(-90)" font-size="14.8" text-anchor="middle">κ<tspan font-size="9.5" dy="6.3">ab</tspan><tspan dy="-6.3">(H)/κ</tspan><tspan font-size="9.5" dy="6.3">ab</tspan><tspan dy="-6.3">(0)</tspan></text>
<text x="58.4" y="466.1" font-size="18.3">(c)</text>
<text transform="translate(138.3 305.5) scale(0.96 1)" font-size="15.7">H//c</text>
<path d="M58.6 279.4H80.4" stroke="#000000" stroke-width="1.25"/>
<rect x="67.15" y="277.05" width="4.7" height="4.7" fill="#000000"/>
<text transform="translate(82.8 283) scale(0.94 1)" font-size="12.2">0.38 K</text>
<path d="M58.6 293.85H80.4" stroke="#ff0000" stroke-width="1.25"/>
<circle cx="69.5" cy="293.85" r="2.75" fill="#ff0000"/>
<text transform="translate(82.8 297.45) scale(0.94 1)" font-size="12.2">0.55 K</text>
<path d="M58.6 308.3H80.4" stroke="#008000" stroke-width="1.25"/>
<polygon points="69.5,304.7 66.2,310.3 72.8,310.3" fill="#008000"/>
<text transform="translate(82.8 311.9) scale(0.94 1)" font-size="12.2">0.7 K</text>
<path d="M58.6 322.75H80.4" stroke="#0000ff" stroke-width="1.25"/>
<polygon points="69.5,326.35 66.2,320.75 72.8,320.75" fill="#0000ff"/>
<text transform="translate(82.8 326.35) scale(0.94 1)" font-size="12.2">0.97 K</text>
<path d="M58.6 337.2H80.4" stroke="#ff00ff" stroke-width="1.25"/>
<polygon points="69.5,333.8 72.9,337.2 69.5,340.6 66.1,337.2" fill="#ff00ff"/>
<text transform="translate(82.8 340.8) scale(0.94 1)" font-size="12.2">1.5 K</text>
<path d="M58.6 351.65H80.4" stroke="#800080" stroke-width="1.25"/>
<polygon points="65.9,351.65 71.5,348.35 71.5,354.95" fill="#800080"/>
<text transform="translate(82.8 355.25) scale(0.94 1)" font-size="12.2">2.1 K</text>
<path d="M58.6 366.1H80.4" stroke="#8000ff" stroke-width="1.25"/>
<polygon points="73.1,366.1 67.5,362.8 67.5,369.4" fill="#8000ff"/>
<text transform="translate(82.8 369.7) scale(0.94 1)" font-size="12.2">5 K</text>
<path d="M292.28 483.8v-4.5M292.28 261.2v4.5M304.36 483.8v-7.6M304.36 261.2v7.6M316.44 483.8v-4.5M316.44 261.2v4.5M328.52 483.8v-7.6M328.52 261.2v7.6M340.6 483.8v-4.5M340.6 261.2v4.5M352.68 483.8v-7.6M352.68 261.2v7.6M364.76 483.8v-4.5M364.76 261.2v4.5M376.84 483.8v-7.6M376.84 261.2v7.6M388.92 483.8v-4.5M388.92 261.2v4.5M401 483.8v-7.6M401 261.2v7.6M413.08 483.8v-4.5M413.08 261.2v4.5M425.16 483.8v-7.6M425.16 261.2v7.6M437.24 483.8v-4.5M437.24 261.2v4.5M449.32 483.8v-7.6M449.32 261.2v7.6M280.4 472.57h4.5M461.3 472.57h-4.5M280.4 461.45h7.6M461.3 461.45h-7.6M280.4 450.32h4.5M461.3 450.32h-4.5M280.4 439.2h4.5M461.3 439.2h-4.5M280.4 428.07h4.5M461.3 428.07h-4.5M280.4 416.95h4.5M461.3 416.95h-4.5M280.4 405.82h7.6M461.3 405.82h-7.6M280.4 394.7h4.5M461.3 394.7h-4.5M280.4 383.57h4.5M461.3 383.57h-4.5M280.4 372.45h4.5M461.3 372.45h-4.5M280.4 361.32h4.5M461.3 361.32h-4.5M280.4 350.2h7.6M461.3 350.2h-7.6M280.4 339.07h4.5M461.3 339.07h-4.5M280.4 327.95h4.5M461.3 327.95h-4.5M280.4 316.82h4.5M461.3 316.82h-4.5M280.4 305.7h4.5M461.3 305.7h-4.5M280.4 294.57h7.6M461.3 294.57h-7.6M280.4 283.45h4.5M461.3 283.45h-4.5M280.4 272.32h4.5M461.3 272.32h-4.5" stroke="#000" stroke-width="1.3" fill="none"/>
<rect x="280.4" y="261.2" width="180.9" height="222.6" fill="none" stroke="#000" stroke-width="1.7"/>
<clipPath id="clipd"><rect x="279.7" y="260.5" width="182.3" height="224"/></clipPath>
<g clip-path="url(#clipd)">
<polyline points="280.2,461.45 292.28,461.62 304.36,461.95 316.44,462.17 328.52,462.28 340.6,462.4 352.68,462.4 364.76,462.4 376.84,462.51 388.92,462.62 401,463.17 413.08,463.4 425.16,463.62 437.24,463.95 449.32,464.51" fill="none" stroke="#000000" stroke-width="1.25" stroke-linejoin="round"/>
<rect x="277.85" y="459.1" width="4.7" height="4.7" fill="#000000"/>
<rect x="289.93" y="459.27" width="4.7" height="4.7" fill="#000000"/>
<rect x="302.01" y="459.6" width="4.7" height="4.7" fill="#000000"/>
<rect x="314.09" y="459.82" width="4.7" height="4.7" fill="#000000"/>
<rect x="326.17" y="459.93" width="4.7" height="4.7" fill="#000000"/>
<rect x="338.25" y="460.05" width="4.7" height="4.7" fill="#000000"/>
<rect x="350.33" y="460.05" width="4.7" height="4.7" fill="#000000"/>
<rect x="362.41" y="460.05" width="4.7" height="4.7" fill="#000000"/>
<rect x="374.49" y="460.16" width="4.7" height="4.7" fill="#000000"/>
<rect x="386.57" y="460.27" width="4.7" height="4.7" fill="#000000"/>
<rect x="398.65" y="460.82" width="4.7" height="4.7" fill="#000000"/>
<rect x="410.73" y="461.05" width="4.7" height="4.7" fill="#000000"/>
<rect x="422.81" y="461.27" width="4.7" height="4.7" fill="#000000"/>
<rect x="434.89" y="461.6" width="4.7" height="4.7" fill="#000000"/>
<rect x="446.97" y="462.16" width="4.7" height="4.7" fill="#000000"/>
<polyline points="280.2,461.45 292.28,461.95 304.36,462.73 316.44,463.17 328.52,463.62 340.6,463.84 352.68,463.95 364.76,464.18 376.84,464.29 388.92,464.62 401,464.29 413.08,464.84 425.16,465.18 449.32,465.18" fill="none" stroke="#ff0000" stroke-width="1.25" stroke-linejoin="round"/>
<circle cx="280.2" cy="461.45" r="2.75" fill="#ff0000"/>
<circle cx="292.28" cy="461.95" r="2.75" fill="#ff0000"/>
<circle cx="304.36" cy="462.73" r="2.75" fill="#ff0000"/>
<circle cx="316.44" cy="463.17" r="2.75" fill="#ff0000"/>
<circle cx="328.52" cy="463.62" r="2.75" fill="#ff0000"/>
<circle cx="340.6" cy="463.84" r="2.75" fill="#ff0000"/>
<circle cx="352.68" cy="463.95" r="2.75" fill="#ff0000"/>
<circle cx="364.76" cy="464.18" r="2.75" fill="#ff0000"/>
<circle cx="376.84" cy="464.29" r="2.75" fill="#ff0000"/>
<circle cx="388.92" cy="464.62" r="2.75" fill="#ff0000"/>
<circle cx="401" cy="464.29" r="2.75" fill="#ff0000"/>
<circle cx="413.08" cy="464.84" r="2.75" fill="#ff0000"/>
<circle cx="425.16" cy="465.18" r="2.75" fill="#ff0000"/>
<circle cx="449.32" cy="465.18" r="2.75" fill="#ff0000"/>
<polyline points="280.2,461.45 292.28,459.4 304.36,457.51 316.44,455.84 328.52,454.95 340.6,454.17 352.68,452.95 364.76,452.39 376.84,452.06 388.92,452.39 401,452.51 413.08,452.73 425.16,452.51 437.24,453.17 449.32,452.95" fill="none" stroke="#0000ff" stroke-width="1.25" stroke-linejoin="round"/>
<polygon points="280.2,465.05 276.9,459.45 283.5,459.45" fill="#0000ff"/>
<polygon points="292.28,463 288.98,457.4 295.58,457.4" fill="#0000ff"/>
<polygon points="304.36,461.11 301.06,455.51 307.66,455.51" fill="#0000ff"/>
<polygon points="316.44,459.44 313.14,453.84 319.74,453.84" fill="#0000ff"/>
<polygon points="328.52,458.55 325.22,452.95 331.82,452.95" fill="#0000ff"/>
<polygon points="340.6,457.77 337.3,452.17 343.9,452.17" fill="#0000ff"/>
<polygon points="352.68,456.55 349.38,450.95 355.98,450.95" fill="#0000ff"/>
<polygon points="364.76,455.99 361.46,450.39 368.06,450.39" fill="#0000ff"/>
<polygon points="376.84,455.66 373.54,450.06 380.14,450.06" fill="#0000ff"/>
<polygon points="388.92,455.99 385.62,450.39 392.22,450.39" fill="#0000ff"/>
<polygon points="401,456.11 397.7,450.51 404.3,450.51" fill="#0000ff"/>
<polygon points="413.08,456.33 409.78,450.73 416.38,450.73" fill="#0000ff"/>
<polygon points="425.16,456.11 421.86,450.51 428.46,450.51" fill="#0000ff"/>
<polygon points="437.24,456.77 433.94,451.17 440.54,451.17" fill="#0000ff"/>
<polygon points="449.32,456.55 446.02,450.95 452.62,450.95" fill="#0000ff"/>
<polyline points="280.2,461.45 292.28,459.51 304.36,458.74 316.44,456.18 328.52,451.62 340.6,445.72 352.68,439.6 364.76,432.38 376.84,430.27 388.92,427.49 401,427.49 413.08,426.26 425.16,426.15 437.24,426.93 449.32,427.49" fill="none" stroke="#ff00ff" stroke-width="1.25" stroke-linejoin="round"/>
<polygon points="280.2,458.05 283.6,461.45 280.2,464.85 276.8,461.45" fill="#ff00ff"/>
<polygon points="292.28,456.11 295.68,459.51 292.28,462.91 288.88,459.51" fill="#ff00ff"/>
<polygon points="304.36,455.34 307.76,458.74 304.36,462.14 300.96,458.74" fill="#ff00ff"/>
<polygon points="316.44,452.78 319.84,456.18 316.44,459.58 313.04,456.18" fill="#ff00ff"/>
<polygon points="328.52,448.22 331.92,451.62 328.52,455.02 325.12,451.62" fill="#ff00ff"/>
<polygon points="340.6,442.32 344,445.72 340.6,449.12 337.2,445.72" fill="#ff00ff"/>
<polygon points="352.68,436.2 356.08,439.6 352.68,443 349.28,439.6" fill="#ff00ff"/>
<polygon points="364.76,428.98 368.16,432.38 364.76,435.78 361.36,432.38" fill="#ff00ff"/>
<polygon points="376.84,426.87 380.24,430.27 376.84,433.67 373.44,430.27" fill="#ff00ff"/>
<polygon points="388.92,424.09 392.32,427.49 388.92,430.89 385.52,427.49" fill="#ff00ff"/>
<polygon points="401,424.09 404.4,427.49 401,430.89 397.6,427.49" fill="#ff00ff"/>
<polygon points="413.08,422.86 416.48,426.26 413.08,429.66 409.68,426.26" fill="#ff00ff"/>
<polygon points="425.16,422.75 428.56,426.15 425.16,429.55 421.76,426.15" fill="#ff00ff"/>
<polygon points="437.24,423.53 440.64,426.93 437.24,430.33 433.84,426.93" fill="#ff00ff"/>
<polygon points="449.32,424.09 452.72,427.49 449.32,430.89 445.92,427.49" fill="#ff00ff"/>
<polyline points="280.2,461.45 292.28,461.41 304.36,462.51 316.44,462.51 328.52,454.95 340.6,443.05 352.68,423.48 364.76,403.02 376.84,388.23 388.92,379.11 401,374.55 413.08,373 425.16,370.44 437.24,367.88 449.32,360.77" fill="none" stroke="#800080" stroke-width="1.25" stroke-linejoin="round"/>
<polygon points="276.6,461.45 282.2,458.15 282.2,464.75" fill="#800080"/>
<polygon points="288.68,461.41 294.28,458.11 294.28,464.71" fill="#800080"/>
<polygon points="300.76,462.51 306.36,459.21 306.36,465.81" fill="#800080"/>
<polygon points="312.84,462.51 318.44,459.21 318.44,465.81" fill="#800080"/>
<polygon points="324.92,454.95 330.52,451.65 330.52,458.25" fill="#800080"/>
<polygon points="337,443.05 342.6,439.75 342.6,446.35" fill="#800080"/>
<polygon points="349.08,423.48 354.68,420.18 354.68,426.78" fill="#800080"/>
<polygon points="361.16,403.02 366.76,399.72 366.76,406.32" fill="#800080"/>
<polygon points="373.24,388.23 378.84,384.93 378.84,391.53" fill="#800080"/>
<polygon points="385.32,379.11 390.92,375.81 390.92,382.41" fill="#800080"/>
<polygon points="397.4,374.55 403,371.25 403,377.85" fill="#800080"/>
<polygon points="409.48,373 415.08,369.7 415.08,376.3" fill="#800080"/>
<polygon points="421.56,370.44 427.16,367.14 427.16,373.74" fill="#800080"/>
<polygon points="433.64,367.88 439.24,364.58 439.24,371.18" fill="#800080"/>
<polygon points="445.72,360.77 451.32,357.47 451.32,364.07" fill="#800080"/>
<polyline points="280.2,461.45 292.28,462.51 304.36,465.51 316.44,465.51 328.52,462.4 340.6,455.62 352.68,443.83 364.76,427.93 376.84,407.14 388.92,379.11 401,342.75 413.08,326.18 425.16,307.06 437.24,287.15 449.32,276.59" fill="none" stroke="#8000ff" stroke-width="1.25" stroke-linejoin="round"/>
<polygon points="283.8,461.45 278.2,458.15 278.2,464.75" fill="#8000ff"/>
<polygon points="295.88,462.51 290.28,459.21 290.28,465.81" fill="#8000ff"/>
<polygon points="307.96,465.51 302.36,462.21 302.36,468.81" fill="#8000ff"/>
<polygon points="320.04,465.51 314.44,462.21 314.44,468.81" fill="#8000ff"/>
<polygon points="332.12,462.4 326.52,459.1 326.52,465.7" fill="#8000ff"/>
<polygon points="344.2,455.62 338.6,452.32 338.6,458.92" fill="#8000ff"/>
<polygon points="356.28,443.83 350.68,440.53 350.68,447.13" fill="#8000ff"/>
<polygon points="368.36,427.93 362.76,424.63 362.76,431.23" fill="#8000ff"/>
<polygon points="380.44,407.14 374.84,403.84 374.84,410.44" fill="#8000ff"/>
<polygon points="392.52,379.11 386.92,375.81 386.92,382.41" fill="#8000ff"/>
<polygon points="404.6,342.75 399,339.45 399,346.05" fill="#8000ff"/>
<polygon points="416.68,326.18 411.08,322.88 411.08,329.48" fill="#8000ff"/>
<polygon points="428.76,307.06 423.16,303.76 423.16,310.36" fill="#8000ff"/>
<polygon points="440.84,287.15 435.24,283.85 435.24,290.45" fill="#8000ff"/>
<polygon points="452.92,276.59 447.32,273.29 447.32,279.89" fill="#8000ff"/>
</g>
<text transform="translate(280.2 498.7) scale(0.925 1)" font-size="14.4" text-anchor="middle">0</text>
<text transform="translate(304.36 498.7) scale(0.925 1)" font-size="14.4" text-anchor="middle">2</text>
<text transform="translate(328.52 498.7) scale(0.925 1)" font-size="14.4" text-anchor="middle">4</text>
<text transform="translate(352.68 498.7) scale(0.925 1)" font-size="14.4" text-anchor="middle">6</text>
<text transform="translate(376.84 498.7) scale(0.925 1)" font-size="14.4" text-anchor="middle">8</text>
<text transform="translate(401 498.7) scale(0.925 1)" font-size="14.4" text-anchor="middle">10</text>
<text transform="translate(425.16 498.7) scale(0.925 1)" font-size="14.4" text-anchor="middle">12</text>
<text transform="translate(449.32 498.7) scale(0.925 1)" font-size="14.4" text-anchor="middle">14</text>
<text transform="translate(275.8 465.95) scale(0.925 1)" font-size="14.4" text-anchor="end">1.0</text>
<text transform="translate(275.8 410.32) scale(0.925 1)" font-size="14.4" text-anchor="end">1.5</text>
<text transform="translate(275.8 354.7) scale(0.925 1)" font-size="14.4" text-anchor="end">2.0</text>
<text transform="translate(275.8 299.07) scale(0.925 1)" font-size="14.4" text-anchor="end">2.5</text>
<text x="370.35" y="513.1" font-size="15.1" text-anchor="middle">H (T)</text>
<text transform="translate(247.3 383.2) rotate(-90)" font-size="14.8" text-anchor="middle">κ<tspan font-size="9.5" dy="5.8">ab</tspan><tspan dy="-5.8">(H)/κ</tspan><tspan font-size="9.5" dy="5.8">ab</tspan><tspan dy="-5.8">(0)</tspan></text>
<text x="386.7" y="292.4" font-size="18.3">(d)</text>
<text transform="translate(300.1 402.5) scale(0.95 1)" font-size="15.7">H//ab</text>
<path d="M301 281.6H322.6" stroke="#000000" stroke-width="1.25"/>
<rect x="309.45" y="279.25" width="4.7" height="4.7" fill="#000000"/>
<text transform="translate(324.9 285.2) scale(0.94 1)" font-size="12.2">0.38 K</text>
<path d="M301 296.03H322.6" stroke="#ff0000" stroke-width="1.25"/>
<circle cx="311.8" cy="296.03" r="2.75" fill="#ff0000"/>
<text transform="translate(324.9 299.63) scale(0.94 1)" font-size="12.2">0.55 K</text>
<path d="M301 310.46H322.6" stroke="#0000ff" stroke-width="1.25"/>
<polygon points="311.8,314.06 308.5,308.46 315.1,308.46" fill="#0000ff"/>
<text transform="translate(324.9 314.06) scale(0.94 1)" font-size="12.2">0.97 K</text>
<path d="M301 324.89H322.6" stroke="#ff00ff" stroke-width="1.25"/>
<polygon points="311.8,321.49 315.2,324.89 311.8,328.29 308.4,324.89" fill="#ff00ff"/>
<text transform="translate(324.9 328.49) scale(0.94 1)" font-size="12.2">1.5 K</text>
<path d="M301 339.32H322.6" stroke="#800080" stroke-width="1.25"/>
<polygon points="308.2,339.32 313.8,336.02 313.8,342.62" fill="#800080"/>
<text transform="translate(324.9 342.92) scale(0.94 1)" font-size="12.2">2.1 K</text>
<path d="M301 353.75H322.6" stroke="#8000ff" stroke-width="1.25"/>
<polygon points="315.4,353.75 309.8,350.45 309.8,357.05" fill="#8000ff"/>
<text transform="translate(324.9 357.35) scale(0.94 1)" font-size="12.2">5 K</text>
</svg>
</body>
</html>
